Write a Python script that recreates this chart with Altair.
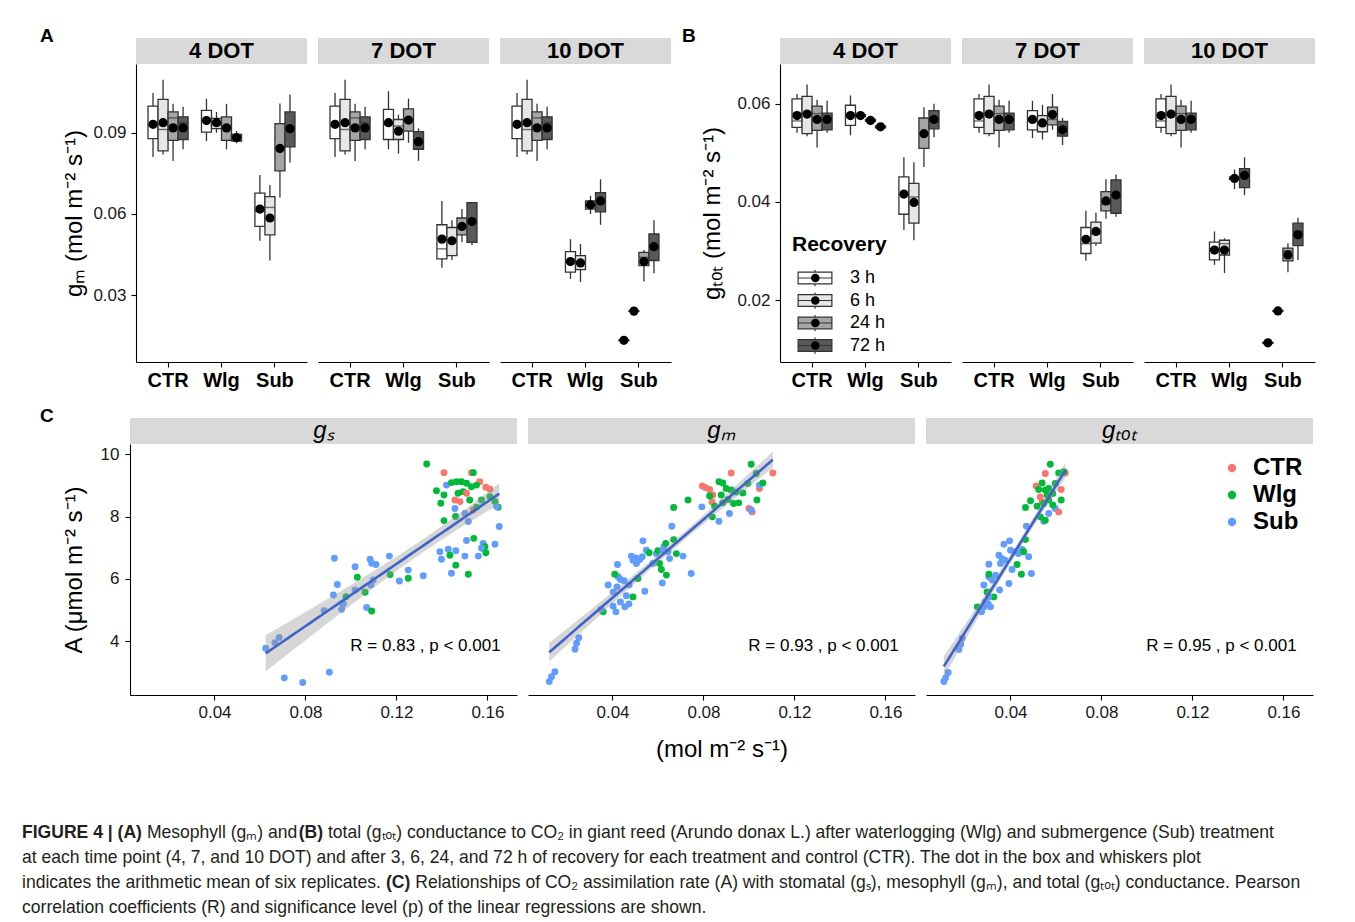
import altair as alt
import pandas as pd
import numpy as np
from itertools import product

FONT = "Liberation Sans, Arial, sans-serif"

dots = ["4 DOT", "7 DOT", "10 DOT"]
treatments = ["CTR", "Wlg", "Sub"]
recovery = ["3 h", "6 h", "24 h", "72 h"]
rec_fill = ["#ffffff", "#e6e6e6", "#a6a6a6", "#595959"]
trt_color = ["#F8766D", "#00BA38", "#619CFF"]

# ---------- Panel A: g_m box statistics (order: DOT -> CTR, Wlg, Sub -> 3, 6, 24, 72 h)
gm_lo = [.0810, .0820, .0796, .0839, .0869, .0900, .0839, .0861, .0501, .0428, .0661, .0790,
         .0810, .0820, .0796, .0839, .0839, .0823, .0863, .0796, .0401, .0430, .0495, .0485,
         .0810, .0820, .0796, .0839, .0360, .0348, .0600, .0560, .0131, .0239, .0350, .0381]
gm_q1 = [.0878, .0833, .0872, .0875, .0902, .0915, .0872, .0869, .0554, .0523, .0759, .0848,
         .0878, .0833, .0872, .0875, .0875, .0875, .0906, .0839, .0434, .0446, .0523, .0495,
         .0878, .0833, .0872, .0875, .0385, .0394, .0618, .0608, .0132, .0240, .0409, .0428]
gm_med = [.0925, .0912, .0955, .0937, .0945, .0930, .0925, .0885, .0610, .0624, .0845, .0910,
          .0925, .0912, .0955, .0937, .0930, .0925, .0945, .0875, .0471, .0505, .0550, .0565,
          .0925, .0912, .0955, .0937, .0425, .0425, .0634, .0650, .0133, .0241, .0440, .0480]
gm_q3 = [.0998, .1023, .0977, .0959, .0983, .0953, .0959, .0894, .0677, .0664, .0934, .0977,
         .0998, .1023, .0977, .0959, .0986, .0949, .0988, .0904, .0560, .0550, .0585, .0642,
         .0998, .1023, .0977, .0959, .0461, .0446, .0648, .0679, .0134, .0242, .0458, .0526]
gm_hi = [.1047, .1096, .1007, .0996, .1026, .0977, .1007, .0906, .0744, .0707, .1008, .1041,
         .1047, .1096, .1007, .0996, .1053, .0967, .1026, .0916, .0648, .0577, .0618, .0642,
         .1047, .1096, .1007, .0996, .0507, .0489, .0667, .0728, .0135, .0243, .0467, .0577]
gm_mean = [.0931, .0937, .0918, .0918, .0945, .0937, .0918, .0882, .0618, .0585, .0842, .0915,
           .0931, .0937, .0918, .0918, .0937, .0906, .0947, .0867, .0507, .0501, .0554, .0572,
           .0931, .0937, .0918, .0918, .0424, .0419, .0634, .0648, .0133, .0241, .0424, .0479]

# ---------- Panel B: g_tot box statistics
gt_lo = [.0541, .0534, .0511, .0541, .0536, .0573, .0563, .0550, .0343, .0322, .0471, .0532,
         .0541, .0534, .0511, .0541, .0530, .0527, .0547, .0516, .0280, .0311, .0366, .0370,
         .0541, .0534, .0511, .0541, .0272, .0255, .0426, .0414, .0111, .0176, .0257, .0282]
gt_q1 = [.0552, .0539, .0546, .0547, .0556, .0574, .0564, .0551, .0375, .0357, .0509, .0549,
         .0552, .0539, .0546, .0547, .0547, .0543, .0557, .0534, .0295, .0316, .0382, .0377,
         .0552, .0539, .0546, .0547, .0282, .0292, .0446, .0429, .0112, .0177, .0280, .0311]
gt_med = [.0565, .0580, .0580, .0570, .0578, .0576, .0566, .0553, .0415, .0410, .0540, .0565,
          .0565, .0580, .0580, .0570, .0570, .0563, .0568, .0553, .0315, .0335, .0395, .0410,
          .0565, .0580, .0580, .0570, .0305, .0315, .0449, .0455, .0113, .0178, .0300, .0340]
gt_q3 = [.0610, .0615, .0595, .0581, .0597, .0578, .0568, .0555, .0451, .0438, .0571, .0586,
         .0610, .0615, .0595, .0581, .0586, .0576, .0593, .0564, .0348, .0359, .0421, .0445,
         .0610, .0615, .0595, .0581, .0318, .0322, .0451, .0468, .0114, .0179, .0306, .0357]
gt_hi = [.0620, .0639, .0608, .0606, .0617, .0579, .0569, .0556, .0491, .0481, .0593, .0600,
         .0620, .0639, .0608, .0606, .0606, .0598, .0620, .0571, .0382, .0378, .0446, .0456,
         .0620, .0639, .0608, .0606, .0340, .0326, .0466, .0491, .0115, .0180, .0316, .0368]
gt_mean = [.0576, .0579, .0568, .0568, .0576, .0576, .0566, .0553, .0416, .0399, .0539, .0568,
           .0576, .0579, .0568, .0568, .0568, .0561, .0578, .0547, .0324, .0340, .0402, .0414,
           .0576, .0579, .0568, .0568, .0302, .0302, .0448, .0454, .0113, .0178, .0292, .0333]

# ---------- Panel C: scatter points (x = conductance, y = A)
gs_x = [.1333, .1409, .1530, .1538, .1420, .1442, .1464, .1486, .1508, .1566, .1593, .1552, .1530,
        .1376, .1409, .1395, .1471, .1493, .1508, .1479, .1457, .1522, .1537, .1552, .1574, .1611,
        .1633, .1647, .1640, .1611, .1457, .1501, .1516, .1409, .1460, .1652, .1508, .1540, .1581,
        .1589, .1633, .1391, .1428, .1461, .1435, .1501, .1560, .1574, .1593, .1398, .1461, .1442,
        .1516, .0625, .0666, .0684, .0707, .0788, .0905, .0882, .0923, .0940, .0927, .0964, .0959,
        .0978, .1018, .1028, .1018, .1069, .1091, .1062, .1087, .1098, .1084, .1091, .1110, .1169,
        .1172, .1213, .1252, .1252, .1318, .0967]
gs_y = [9.69, 9.41, 9.41, 9.41, 9.01, 9.09, 9.12, 9.12, 9.07, 9.12, 8.94, 9.01, 8.96,
        8.83, 8.69, 8.43, 8.75, 8.80, 8.75, 8.48, 8.53, 8.53, 8.21, 8.30, 8.53, 8.64,
        8.48, 8.30, 8.32, 8.88, 8.26, 8.10, 7.84, 7.87, 8.00, 7.68, 7.23, 7.30, 7.14,
        7.03, 7.11, 6.87, 6.95, 6.90, 6.76, 6.73, 6.73, 6.98, 6.84, 6.63, 6.44, 6.18,
        6.15, 3.77, 3.95, 4.12, 2.82, 2.67, 3.00, 4.98, 5.48, 5.82, 6.66, 5.19, 5.02,
        5.43, 6.39, 6.05, 5.64, 5.08, 4.97, 5.57, 5.80, 5.96, 6.63, 6.50, 6.46, 6.73,
        6.14, 5.93, 6.02, 6.28, 6.10, 5.21]
gs_trt = ["Wlg", "CTR", "CTR", "Wlg", "Sub", "Wlg", "Wlg", "Wlg", "Wlg", "CTR", "CTR", "Wlg", "Wlg",
          "Wlg", "Wlg", "Wlg", "Wlg", "Wlg", "CTR", "CTR", "CTR", "Wlg", "CTR", "Wlg", "Wlg", "Wlg",
          "Wlg", "Wlg", "Sub", "CTR", "Sub", "Sub", "Sub", "Wlg", "Wlg", "Sub", "Sub", "Wlg", "Sub",
          "Wlg", "Sub", "Sub", "Sub", "Sub", "Wlg", "Sub", "Sub", "Sub", "Wlg", "Sub", "Wlg", "Sub",
          "Wlg", "Sub", "Sub", "Sub", "Sub", "Sub", "Sub", "Sub", "Sub", "Sub", "Sub", "Sub", "Sub",
          "Wlg", "Sub", "Wlg", "Sub", "Sub", "Wlg", "Wlg", "Sub", "Sub", "Sub", "Sub", "Sub", "Sub",
          "Wlg", "Sub", "Wlg", "Sub", "Sub", "Sub"]

gm_x = [.0122, .0132, .0147, .0235, .0242, .0252, .0359, .0349, .0403, .0415, .0435, .0454, .0472,
        .0461, .0490, .0403, .0381, .0420, .0435, .0425, .0410, .0451, .0473, .0422, .0512, .0542,
        .0483, .0502, .0520, .0531, .0490, .0505, .0534, .0549, .0561, .0578, .0593, .0600, .0607,
        .0615, .0622, .0626, .0634, .0644, .0651, .0637, .0619, .0669, .0681, .0710, .0746, .0661,
        .0669, .0732, .0793, .0839, .0868, .0914, .0868, .0885, .0795, .0809, .0827, .0841, .0838,
        .0827, .0849, .0885, .0907, .0900, .0922, .0944, .0955, .0973, .0995, .0922, .1010, .1032,
        .1046, .1046, .1061, .1105, .1035, .1000, .1014, .1010, .0932, .0878]
gm_y = [2.70, 2.86, 3.02, 3.74, 3.93, 4.11, 4.94, 5.02, 5.12, 4.94, 5.26, 5.10, 5.19,
        5.46, 5.42, 5.58, 5.80, 5.74, 5.98, 6.07, 6.15, 5.94, 5.80, 6.46, 6.01, 5.60,
        6.73, 6.67, 6.62, 6.71, 6.60, 6.49, 7.22, 6.92, 6.84, 6.49, 6.81, 6.90, 6.49,
        6.30, 6.92, 7.03, 7.14, 6.87, 6.65, 6.12, 5.87, 7.26, 6.81, 6.73, 6.17, 7.69,
        8.29, 8.53, 8.31, 7.99, 7.85, 8.10, 9.12, 9.08, 8.98, 8.93, 8.87, 8.69, 8.47,
        8.66, 8.33, 8.44, 8.55, 8.90, 8.85, 8.79, 8.44, 8.76, 9.06, 9.40, 9.68, 9.38,
        8.90, 9.01, 9.08, 9.40, 8.53, 8.26, 8.15, 8.21, 8.42, 8.69]
gm_trt = ["Sub", "Sub", "Sub", "Sub", "Sub", "Sub", "Wlg", "Sub", "Sub", "Sub", "Sub", "Sub", "Sub",
          "Sub", "Wlg", "Sub", "Sub", "Sub", "Sub", "Sub", "Wlg", "Sub", "Sub", "Sub", "Wlg", "Sub",
          "Sub", "Sub", "Sub", "Sub", "Sub", "Sub", "Sub", "Sub", "Wlg", "Sub", "Sub", "Wlg", "Wlg",
          "Wlg", "Sub", "Sub", "Wlg", "Sub", "Sub", "Wlg", "Sub", "Wlg", "Wlg", "Sub", "Sub", "Sub",
          "Wlg", "Wlg", "Sub", "Wlg", "Sub", "Sub", "Wlg", "Wlg", "CTR", "CTR", "CTR", "CTR", "CTR",
          "Wlg", "Wlg", "Wlg", "Wlg", "Wlg", "Wlg", "Wlg", "Wlg", "Wlg", "Wlg", "CTR", "Wlg", "Wlg",
          "CTR", "Sub", "Wlg", "CTR", "Wlg", "CTR", "CTR", "Sub", "Wlg", "Wlg"]

gtot_x = [.0107, .0115, .0126, .0173, .0181, .0188, .0254, .0273, .0283, .0302, .0312, .0290, .0327,
          .0305, .0283, .0297, .0352, .0305, .0305, .0319, .0334, .0393, .0429, .0407, .0448, .0492,
          .0305, .0349, .0363, .0375, .0356, .0371, .0396, .0400, .0422, .0436, .0451, .0466, .0458,
          .0480, .0470, .0466, .0488, .0546, .0568, .0597, .0531, .0553, .0553, .0575, .0513, .0524,
          .0539, .0553, .0568, .0561, .0539, .0517, .0568, .0586, .0597, .0612, .0641, .0623, .0623,
          .0612, .0586, .0546, .0531, .0634]
gtot_y = [2.70, 2.82, 2.99, 3.73, 3.90, 4.09, 5.10, 4.94, 5.10, 5.19, 5.10, 5.26, 5.42,
          5.42, 5.80, 5.58, 5.64, 6.07, 6.15, 5.96, 6.12, 5.85, 6.46, 6.30, 6.15, 6.17,
          6.47, 6.76, 6.65, 6.60, 6.49, 7.11, 7.22, 6.92, 6.87, 6.81, 6.94, 7.26, 6.87,
          6.71, 7.69, 8.29, 8.51, 7.85, 8.10, 8.26, 7.99, 7.88, 9.38, 9.68, 8.98, 8.87,
          9.08, 8.85, 8.90, 8.69, 8.47, 8.33, 8.53, 8.74, 9.06, 9.40, 9.40, 8.87, 8.53,
          8.15, 8.37, 8.42, 8.63, 9.44]
gtot_trt = ["Sub", "Sub", "Sub", "Sub", "Sub", "Sub", "Wlg", "Sub", "Sub", "Sub", "Sub", "Sub", "Wlg",
            "Sub", "Sub", "Wlg", "Sub", "Sub", "Wlg", "Sub", "Sub", "Sub", "Wlg", "Sub", "Wlg", "Sub",
            "Sub", "Sub", "Sub", "Sub", "Sub", "Sub", "Sub", "Sub", "Sub", "Sub", "Sub", "Wlg", "Wlg",
            "Sub", "Sub", "Wlg", "Wlg", "Sub", "Sub", "Sub", "Wlg", "Wlg", "CTR", "Wlg", "CTR", "Wlg",
            "Wlg", "Wlg", "Wlg", "Wlg", "CTR", "Wlg", "Wlg", "Wlg", "Wlg", "Wlg", "CTR", "CTR", "Wlg",
            "CTR", "Wlg", "Wlg", "CTR", "Wlg"]

r_labels = ["R = 0.83 , p < 0.001", "R = 0.93 , p < 0.001", "R = 0.95 , p < 0.001"]
strip_c = ["gₛ", "gₘ", "gₜₒₜ"]

caption_text = [
    "FIGURE 4 | (A)", "Mesophyll (gₘ) and", "(B)",
    "total (gₜₒₜ) conductance to CO₂ in giant reed (Arundo donax L.) after waterlogging (Wlg) and submergence (Sub) treatment",
    "at each time point (4, 7, and 10 DOT) and after 3, 6, 24, and 72 h of recovery for each treatment and control (CTR). The dot in the box and whiskers plot",
    "indicates the arithmetic mean of six replicates.", "(C)",
    "Relationships of CO₂ assimilation rate (A) with stomatal (gₛ), mesophyll (gₘ), and total (gₜₒₜ) conductance. Pearson",
    "correlation coefficients (R) and significance level (p) of the linear regressions are shown.",
]
caption_bold = [True, False, True, False, False, False, True, False, False]
caption_line = [0, 0, 0, 0, 1, 2, 2, 2, 3]

# approximate Arial / Liberation Sans advance widths (per 1000 em) for laying out caption runs
_REG = {" ": 278, ",": 278, ".": 278, "(": 333, ")": 333, "|": 260, "-": 333,
        "f": 278, "i": 222, "j": 222, "l": 222, "r": 333, "t": 278, "m": 833, "w": 722,
        "c": 500, "k": 500, "s": 500, "v": 500, "x": 500, "y": 500, "z": 500,
        "A": 667, "B": 667, "C": 722, "D": 722, "E": 667, "F": 611, "G": 778, "H": 722, "I": 278,
        "L": 556, "M": 833, "N": 722, "O": 778, "P": 667, "R": 722, "S": 667, "T": 611, "U": 722,
        "W": 944}
_BOLD = {" ": 278, "(": 333, ")": 333, "|": 280, "f": 333, "i": 278, "l": 278, "r": 389,
         "t": 333, "m": 889, "A": 722, "B": 722, "C": 722, "E": 667, "F": 611, "G": 778,
         "I": 278, "R": 722, "U": 722}


def text_em(s, bold):
    tab = _BOLD if bold else _REG
    tot = 0
    for ch in s:
        if ch in "ₘₜₒₛ₂⁻²¹":
            tot += 420
        elif ch in tab:
            tot += tab[ch]
        elif bold and ch.islower():
            tot += 611
        else:
            tot += 556
    return tot / 1000.0


CAP_FS = 0.96 * 1229.0 / text_em(caption_text[4], False)
cap_x = []
_cursor = {}
for t, b, ln in zip(caption_text, caption_bold, caption_line):
    x0 = _cursor.get(ln, 0.0)
    cap_x.append(x0)
    _cursor[ln] = x0 + (text_em(t, b) + 0.278) * CAP_FS


def hc(*charts, spacing=0):
    return alt.hconcat(*charts, spacing=spacing).resolve_scale(
        color="independent", fill="independent", shape="independent").resolve_legend(
        color="independent", fill="independent", shape="independent")


def vc(*charts, spacing=0):
    return alt.vconcat(*charts, spacing=spacing).resolve_scale(
        color="independent", fill="independent", shape="independent").resolve_legend(
        color="independent", fill="independent", shape="independent")


def box_frame(lo, q1, med, q3, hi, mean):
    rows = []
    for i, (d, t, r) in enumerate(product(dots, treatments, recovery)):
        rows.append(dict(day=d, trt=t, rec=r, rec_dot=r + " ", lo=lo[i], q1=q1[i], med=med[i],
                         q3=q3[i], hi=hi[i], mean=mean[i]))
    return pd.DataFrame(rows)


gm_df = box_frame(gm_lo, gm_q1, gm_med, gm_q3, gm_hi, gm_mean)
gt_df = box_frame(gt_lo, gt_q1, gt_med, gt_q3, gt_hi, gt_mean)

BOX_W, BOX_H = 171, 298
STRIP_H = 26


def strip(label, w, italic=False, bold=True):
    return alt.Chart(pd.DataFrame({"lab": [label]})).mark_text(
        fontSize=22 if bold else 24, fontWeight="bold" if bold else "normal",
        fontStyle="italic" if italic else "normal", font=FONT, color="black"
    ).encode(text="lab:N").properties(
        width=w, height=STRIP_H, view=alt.ViewBackground(fill="#d9d9d9", stroke=None))


LEG_PATH = "M-2.6,-0.9H2.6V0.9H-2.6Z M-2.6,0H2.6 M0,-1.25V-0.9 M0,0.9V1.25"
LEG_COMMON = dict(orient="none", legendX=12, legendY=170,
                  titleFontSize=21, titleFontWeight="bold", labelFontSize=18,
                  rowPadding=0.5, titlePadding=12, clipHeight=22)
rec_legend = alt.Legend(title="Recovery", titleColor="black", labelColor="black",
                        symbolType=LEG_PATH, symbolSize=169, symbolStrokeColor="#333333",
                        symbolStrokeWidth=1.2, symbolOffset=14, labelOffset=26, **LEG_COMMON)
dot_legend = alt.Legend(title=" ", labelExpr="''", symbolType="circle", symbolSize=72,
                        symbolFillColor="black", symbolStrokeColor="black", symbolStrokeWidth=0,
                        symbolOpacity=1, symbolOffset=14.3, labelOffset=26, **LEG_COMMON)


def box_panel(df, day, ydom, yvals, ytitle, first, with_legend, tpad):
    sub = df[df["day"] == day]
    base = alt.Chart(sub)
    xenc = alt.X("trt:N", sort=treatments,
                 scale=alt.Scale(domain=treatments, paddingInner=0.25, paddingOuter=0.225),
                 axis=alt.Axis(title=None, labelFontSize=20, labelFontWeight="bold",
                               labelAngle=0, labelColor="black", labelPadding=3))
    xo = alt.XOffset("rec:N", sort=recovery,
                     scale=alt.Scale(domain=recovery, paddingInner=0, paddingOuter=0))
    if first:
        yaxis = alt.Axis(title=ytitle, values=yvals, format=".2f", labelFontSize=17,
                         titleFontSize=24, titleFontWeight="normal", titlePadding=tpad,
                         labelPadding=5, labelColor="#1a1a1a")
    else:
        yaxis = None

    def Y(f):
        return alt.Y(f + ":Q", scale=alt.Scale(domain=ydom, nice=False, zero=False), axis=yaxis)

    fill = alt.Fill("rec:N", sort=recovery,
                    scale=alt.Scale(domain=recovery, range=rec_fill),
                    legend=rec_legend if with_legend else None)
    shape = alt.Shape("rec_dot:N", sort=[r + " " for r in recovery],
                      scale=alt.Scale(domain=[r + " " for r in recovery], range=["circle"] * 4),
                      legend=dot_legend if with_legend else None)
    whisk = base.mark_rule(color="#333333", strokeWidth=1.3).encode(
        x=xenc, xOffset=xo, y=Y("lo"), y2="hi:Q")
    box = base.mark_bar(stroke="#333333", strokeWidth=1.3).encode(
        x=xenc, xOffset=xo, y=Y("q1"), y2="q3:Q", fill=fill)
    med = base.mark_tick(color="#333333", thickness=1.4, size=10).encode(
        x=xenc, xOffset=xo, y=Y("med"))
    mean = base.mark_point(filled=True, color="black", size=85, opacity=1).encode(
        x=xenc, xOffset=xo, y=Y("mean"), shape=shape)
    return alt.layer(whisk, box, med, mean).properties(width=BOX_W, height=BOX_H)


def box_group(df, ydom, yvals, ytitle, with_legend, tpad):
    cols = []
    for i, d in enumerate(dots):
        cols.append(vc(strip(d, BOX_W),
                       box_panel(df, d, ydom, yvals, ytitle, i == 0,
                                 with_legend and i == 0, tpad), spacing=0))
    return hc(*cols, spacing=11)


A_group = box_group(gm_df, [0.0053, 0.1154], [0.03, 0.06, 0.09], "gₘ (mol m⁻² s⁻¹)", False, 6)
B_group = box_group(gt_df, [0.0074, 0.0681], [0.02, 0.04, 0.06], "gₜₒₜ (mol m⁻² s⁻¹)", True, 12)

# ---------- Panel C
SC_W, SC_H = 387, 251
XDOM = [0.00285, 0.1730]
YDOM = [2.27, 10.33]


def fit_band(x, y):
    x = np.asarray(x)
    y = np.asarray(y)
    n = len(x)
    b, a = np.polyfit(x, y, 1)
    xs = np.linspace(x.min(), x.max(), 60)
    yh = a + b * xs
    resid = y - (a + b * x)
    s = np.sqrt((resid ** 2).sum() / (n - 2))
    sxx = ((x - x.mean()) ** 2).sum()
    se = s * np.sqrt(1.0 / n + (xs - x.mean()) ** 2 / sxx)
    t = 1.99
    return pd.DataFrame({"x": xs, "fit": yh, "lo": yh - t * se, "hi": yh + t * se})


c_legend = alt.Legend(title=None, orient="none", legendX=294, legendY=12,
                      labelFontSize=24, labelFontWeight="bold", labelColor="black",
                      symbolType="circle", symbolSize=70, rowPadding=3, labelOffset=9)

sc_sets = [(gs_x, gs_y, gs_trt), (gm_x, gm_y, gm_trt), (gtot_x, gtot_y, gtot_trt)]


def scatter_panel(i):
    xv, yv, tv = sc_sets[i]
    pts_df = pd.DataFrame({"x": xv, "y": yv, "trt": tv})
    band_df = fit_band(xv, yv)
    xaxis = alt.Axis(values=[0.04, 0.08, 0.12, 0.16], format=".2f", labelFontSize=17,
                     labelColor="#1a1a1a", labelPadding=4,
                     title="(mol m⁻² s⁻¹)" if i == 1 else None, titleFontSize=24,
                     titleFontWeight="normal", titlePadding=17)
    if i == 0:
        yaxis = alt.Axis(values=[4, 6, 8, 10], labelFontSize=17, labelColor="#1a1a1a",
                         labelPadding=6, title="A (μmol m⁻² s⁻¹)", titleFontSize=24,
                         titleFontWeight="normal", titlePadding=14)
    else:
        yaxis = None
    X = alt.X("x:Q", scale=alt.Scale(domain=XDOM, nice=False, zero=False), axis=xaxis)

    def Yf(f):
        return alt.Y(f + ":Q", scale=alt.Scale(domain=YDOM, nice=False, zero=False), axis=yaxis)

    pts = alt.Chart(pts_df).mark_circle(size=48, opacity=1).encode(
        x=X, y=Yf("y"),
        color=alt.Color("trt:N", sort=treatments,
                        scale=alt.Scale(domain=treatments, range=trt_color),
                        legend=c_legend if i == 2 else None))
    band = alt.Chart(band_df).mark_area(color="#999999", opacity=0.4).encode(
        x=X, y=Yf("lo"), y2="hi:Q")
    line = alt.Chart(band_df).mark_line(color="#3f63c8", strokeWidth=2.6).encode(
        x=X, y=Yf("fit"))
    txt = alt.Chart(pd.DataFrame({"x": [0.1658], "y": [3.84], "t": [r_labels[i]]})).mark_text(
        align="right", baseline="middle", fontSize=17, font=FONT, color="black").encode(
        x=X, y=Yf("y"), text="t:N")
    return alt.layer(pts, band, line, txt).properties(width=SC_W, height=SC_H)


c_cols = [vc(strip(strip_c[i], SC_W, italic=True, bold=False), scatter_panel(i), spacing=0)
          for i in range(3)]
C_group = hc(*c_cols, spacing=11)


def letter(ch, shift, w):
    return alt.Chart(pd.DataFrame({"t": [ch]})).mark_text(
        fontSize=19, fontWeight="bold", align="left", baseline="top", font=FONT, color="black"
    ).encode(text="t:N", x=alt.value(shift), y=alt.value(-11)).properties(width=w, height=10)


row1 = hc(hc(letter("A", 18, 34), A_group, spacing=6),
          hc(letter("B", 0, 16), B_group, spacing=2), spacing=11)
row2 = hc(letter("C", 18, 34), C_group, spacing=6)

# ---------- Caption
cap_df = pd.DataFrame({"t": caption_text, "bold": caption_bold,
                       "line": caption_line, "x": cap_x})
cap_df["y"] = cap_df["line"] * 25 + 10
cap_base = alt.Chart(cap_df)
cap_norm = cap_base.transform_filter("!datum.bold").mark_text(
    align="left", baseline="middle", fontSize=CAP_FS, font=FONT, color="#231f20").encode(
    x=alt.X("x:Q", scale=None, axis=None), y=alt.Y("y:Q", scale=None, axis=None), text="t:N")
cap_bold = cap_base.transform_filter("datum.bold").mark_text(
    align="left", baseline="middle", fontSize=CAP_FS, font=FONT, fontWeight="bold",
    color="#231f20").encode(
    x=alt.X("x:Q", scale=None, axis=None), y=alt.Y("y:Q", scale=None, axis=None), text="t:N")
caption = alt.layer(cap_norm, cap_bold).properties(width=1285, height=84)

chart = vc(vc(row1, row2, spacing=17), caption, spacing=62).properties(
    padding={"left": 14, "top": 19, "right": 4, "bottom": 0}
).configure_view(stroke=None).configure_axis(
    domainColor="black", tickColor="black", grid=False, labelFont=FONT, titleFont=FONT,
    tickSize=5, domainWidth=1.1, tickWidth=1.1
).configure_legend(labelFont=FONT, titleFont=FONT).configure_text(font=FONT)

chart.save("out.html", embed_options={"renderer": "svg", "actions": False})
